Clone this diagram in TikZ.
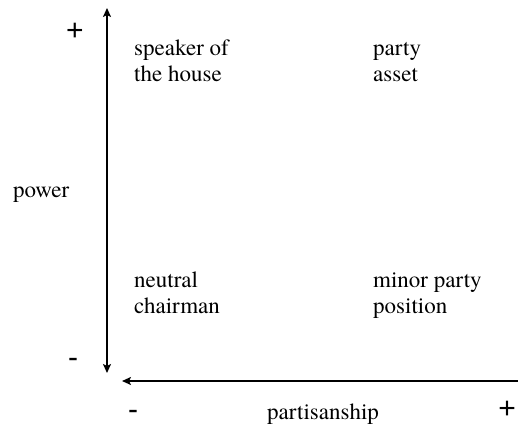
\documentclass[tikz,border=0pt]{standalone}
\usepackage{fontspec}
\setmainfont{TeX Gyre Termes}
\newfontfamily\signfont{Liberation Sans}
\usetikzlibrary{arrows.meta}
\begin{document}
\begin{tikzpicture}[x=1pt,y=1pt,
  >={Stealth[length=9pt,width=8pt,inset=2pt]},
  lbl/.style={font=\rmfamily\fontsize{23}{26}\selectfont, inner sep=0pt, align=left, anchor=base west},
  sgn/.style={font=\signfont\fontsize{30}{34}\selectfont, inner sep=0pt, anchor=base},
  axisline/.style={line width=2pt}]
\useasboundingbox (0,0) rectangle (518,426);
% axes
\coordinate (vtop) at (107,418);
\coordinate (vbot) at (107,53);
\coordinate (hleft) at (122,45);
\coordinate (hright) at (518,45);
\draw[axisline, <->] (vbot) -- (vtop);
\draw[axisline, ->] (hright) -- (hleft);
% signs
\node[sgn] (ptop) at (75,385.4) {+};
\node[sgn] (mleft) at (73,59) {-};
\node[sgn] (mbot) at (133,7) {-};
\node[sgn] (pright) at (507,7.4) {+};
% labels
\node[lbl] (power) at (13,229) {power};
\node[lbl] (partisanship) at (267,7) {partisanship};
\node[lbl] (speaker) at (134,344) {speaker of\\the house};
\node[lbl] (party) at (373,344) {party\\asset};
\node[lbl] (neutral) at (134,113) {neutral\\chairman};
\node[lbl] (minor) at (373,113) {minor party\\position};
\end{tikzpicture}
\end{document}
